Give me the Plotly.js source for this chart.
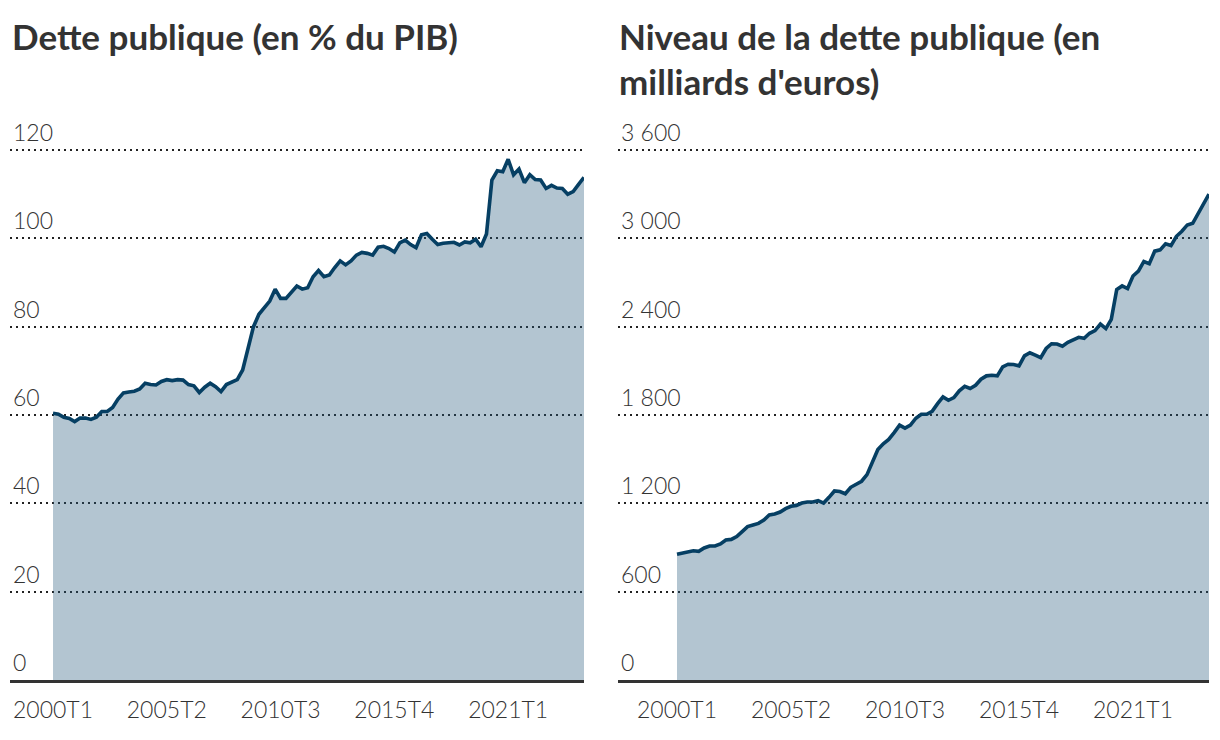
<!DOCTYPE html>
<html>
<head>
<meta charset="utf-8">
<script src="https://cdn.plot.ly/plotly-3.0.1.min.js"></script>
<style>
  html, body { margin: 0; padding: 0; background: #ffffff; }
  #chart { width: 1220px; height: 740px; }
</style>
</head>
<body>
<div id="chart"></div>
<script>
// Quarters (categories)
const quarters = [
  "2000T1","2000T2","2000T3","2000T4","2001T1","2001T2","2001T3","2001T4",
  "2002T1","2002T2","2002T3","2002T4","2003T1","2003T2","2003T3","2003T4",
  "2004T1","2004T2","2004T3","2004T4","2005T1","2005T2","2005T3","2005T4",
  "2006T1","2006T2","2006T3","2006T4","2007T1","2007T2","2007T3","2007T4",
  "2008T1","2008T2","2008T3","2008T4","2009T1","2009T2","2009T3","2009T4",
  "2010T1","2010T2","2010T3","2010T4","2011T1","2011T2","2011T3","2011T4",
  "2012T1","2012T2","2012T3","2012T4","2013T1","2013T2","2013T3","2013T4",
  "2014T1","2014T2","2014T3","2014T4","2015T1","2015T2","2015T3","2015T4",
  "2016T1","2016T2","2016T3","2016T4","2017T1","2017T2","2017T3","2017T4",
  "2018T1","2018T2","2018T3","2018T4","2019T1","2019T2","2019T3","2019T4",
  "2020T1","2020T2","2020T3","2020T4","2021T1","2021T2","2021T3","2021T4",
  "2022T1","2022T2","2022T3","2022T4","2023T1","2023T2","2023T3","2023T4",
  "2024T1","2024T2","2024T3"
];

// Dette publique en % du PIB
const dettePib = [
  60.4, 60.2, 59.5, 59.2, 58.5, 59.3, 59.3, 59.0,
  59.5, 60.8, 60.8, 61.7, 63.6, 65.0, 65.2, 65.4,
  65.9, 67.2, 66.9, 66.8, 67.6, 68.0, 67.8, 68.0,
  67.9, 66.9, 66.6, 65.1, 66.3, 67.2, 66.4, 65.3,
  66.9, 67.5, 68.0, 70.2, 75.5, 80.0, 82.8, 84.2,
  85.8, 88.5, 86.4, 86.4, 87.9, 89.2, 88.5, 88.8,
  91.3, 92.7, 91.3, 91.7, 93.4, 94.9, 94.0, 94.9,
  96.2, 96.8, 96.6, 96.2, 98.0, 98.2, 97.7, 96.9,
  99.0, 99.6, 98.6, 97.9, 100.8, 101.1, 99.8, 98.6,
  98.9, 98.9, 99.1, 98.5, 99.2, 99.0, 99.8, 98.1,
  101.0, 113.2, 115.3, 115.1, 117.9, 114.4, 115.7, 112.6,
  114.4, 113.3, 113.2, 111.3, 112.0, 111.4, 111.3, 110.0,
  110.6, 112.2, 113.8
];

// Niveau de la dette publique en milliards d'euros
const detteMds = [
  854, 863, 869, 878, 874, 897, 910, 910,
  924, 951, 955, 974, 1008, 1042, 1053, 1064,
  1087, 1121, 1128, 1141, 1164, 1180, 1186, 1202,
  1209, 1209, 1218, 1202, 1241, 1284, 1280, 1265,
  1309, 1331, 1350, 1395, 1475, 1565, 1605, 1634,
  1680, 1731, 1711, 1731, 1778, 1805, 1805, 1825,
  1877, 1923, 1900, 1918, 1964, 1995, 1980, 2002,
  2043, 2066, 2070, 2066, 2127, 2145, 2143, 2134,
  2202, 2223, 2207, 2189, 2252, 2284, 2282, 2268,
  2294, 2310, 2328, 2321, 2355, 2373, 2418, 2387,
  2450, 2652, 2677, 2659, 2744, 2778, 2843, 2828,
  2913, 2922, 2963, 2951, 3014, 3048, 3091, 3102,
  3165, 3228, 3300
];

const xTickVals = ["2000T1", "2005T2", "2010T3", "2015T4", "2021T1"];
const pibTickVals = [0, 20, 40, 60, 80, 100, 120];
const pibTickText = ["0", "20", "40", "60", "80", "100", "120"];
const mdsTickVals = [0, 600, 1200, 1800, 2400, 3000, 3600];
const mdsTickText = ["0", "600", "1 200", "1 800", "2 400", "3 000", "3 600"];

const titleLeft = "Dette publique (en % du PIB)";
const titleRight1 = "Niveau de la dette publique (en";
const titleRight2 = "milliards d'euros)";

const lineColor = "#063f63";
// translucent so the dotted grid shows through, renders as #b3c5d1 on white
const fillColor = "rgba(38,89,124,0.35)";
const textColor = "#333333";
const FONT = "Lato, 'Source Sans Pro', 'Open Sans', sans-serif";

const W = 1220, H = 740;
const yDomain = [(H - 680) / H, (H - 145.6) / H];

const traceCommon = {
  type: "scatter",
  mode: "lines",
  fill: "tozeroy",
  fillcolor: fillColor,
  line: { color: lineColor, width: 3.6, shape: "linear" },
  hoverinfo: "skip",
  showlegend: false
};

const traces = [
  Object.assign({}, traceCommon, { x: quarters, y: dettePib, xaxis: "x", yaxis: "y" }),
  Object.assign({}, traceCommon, { x: quarters, y: detteMds, xaxis: "x2", yaxis: "y2" })
];

function xAxis(domain, range, anchor) {
  return {
    domain: domain,
    anchor: anchor,
    type: "category",
    range: range,
    tickmode: "array",
    tickvals: xTickVals,
    ticktext: xTickVals,
    showgrid: false,
    zeroline: false,
    showline: true,
    linecolor: "#333333",
    linewidth: 2.5,
    layer: "above traces",
    ticks: "",
    ticklabelstandoff: 8,
    ticklabeloverflow: "allow",
    tickfont: { family: FONT, size: 23, color: textColor, weight: 300 },
    fixedrange: true
  };
}

function yAxis(anchor, range, vals, text) {
  return {
    domain: yDomain,
    anchor: anchor,
    range: range,
    tickmode: "array",
    tickvals: vals,
    ticktext: text,
    showgrid: true,
    gridcolor: "#222222",
    gridwidth: 2,
    griddash: "2px,4px",
    zeroline: false,
    showline: false,
    ticks: "",
    ticklabelposition: "inside",
    ticklabeloverflow: "allow",
    ticklabelshift: -17,
    ticklabelstandoff: 0,
    tickfont: { family: FONT, size: 23, color: textColor, weight: 300 },
    fixedrange: true
  };
}

const titleFont = { family: FONT, size: 35, color: textColor, weight: 700 };

const layout = {
  width: W,
  height: H,
  margin: { l: 0, r: 0, t: 0, b: 0, pad: 0 },
  paper_bgcolor: "#ffffff",
  plot_bgcolor: "rgba(0,0,0,0)",
  showlegend: false,
  xaxis: xAxis([10 / W, 584 / W], [-7.94, 98], "y"),
  yaxis: yAxis("x", [0, 121], pibTickVals, pibTickText),
  xaxis2: xAxis([618 / W, 1209 / W], [-10.87, 98], "y2"),
  yaxis2: yAxis("x2", [0, 3630], mdsTickVals, mdsTickText),
  annotations: [
    { text: titleLeft, xref: "paper", yref: "paper",
      x: 10 / W, y: 1 - 36 / H, xanchor: "left", yanchor: "middle", showarrow: false,
      font: titleFont },
    { text: titleRight1, xref: "paper", yref: "paper",
      x: 617 / W, y: 1 - 36 / H, xanchor: "left", yanchor: "middle", showarrow: false,
      font: titleFont },
    { text: titleRight2, xref: "paper", yref: "paper",
      x: 617 / W, y: 1 - 81 / H, xanchor: "left", yanchor: "middle", showarrow: false,
      font: titleFont }
  ]
};

Plotly.newPlot("chart", traces, layout, { displayModeBar: false, staticPlot: true });
</script>
</body>
</html>
